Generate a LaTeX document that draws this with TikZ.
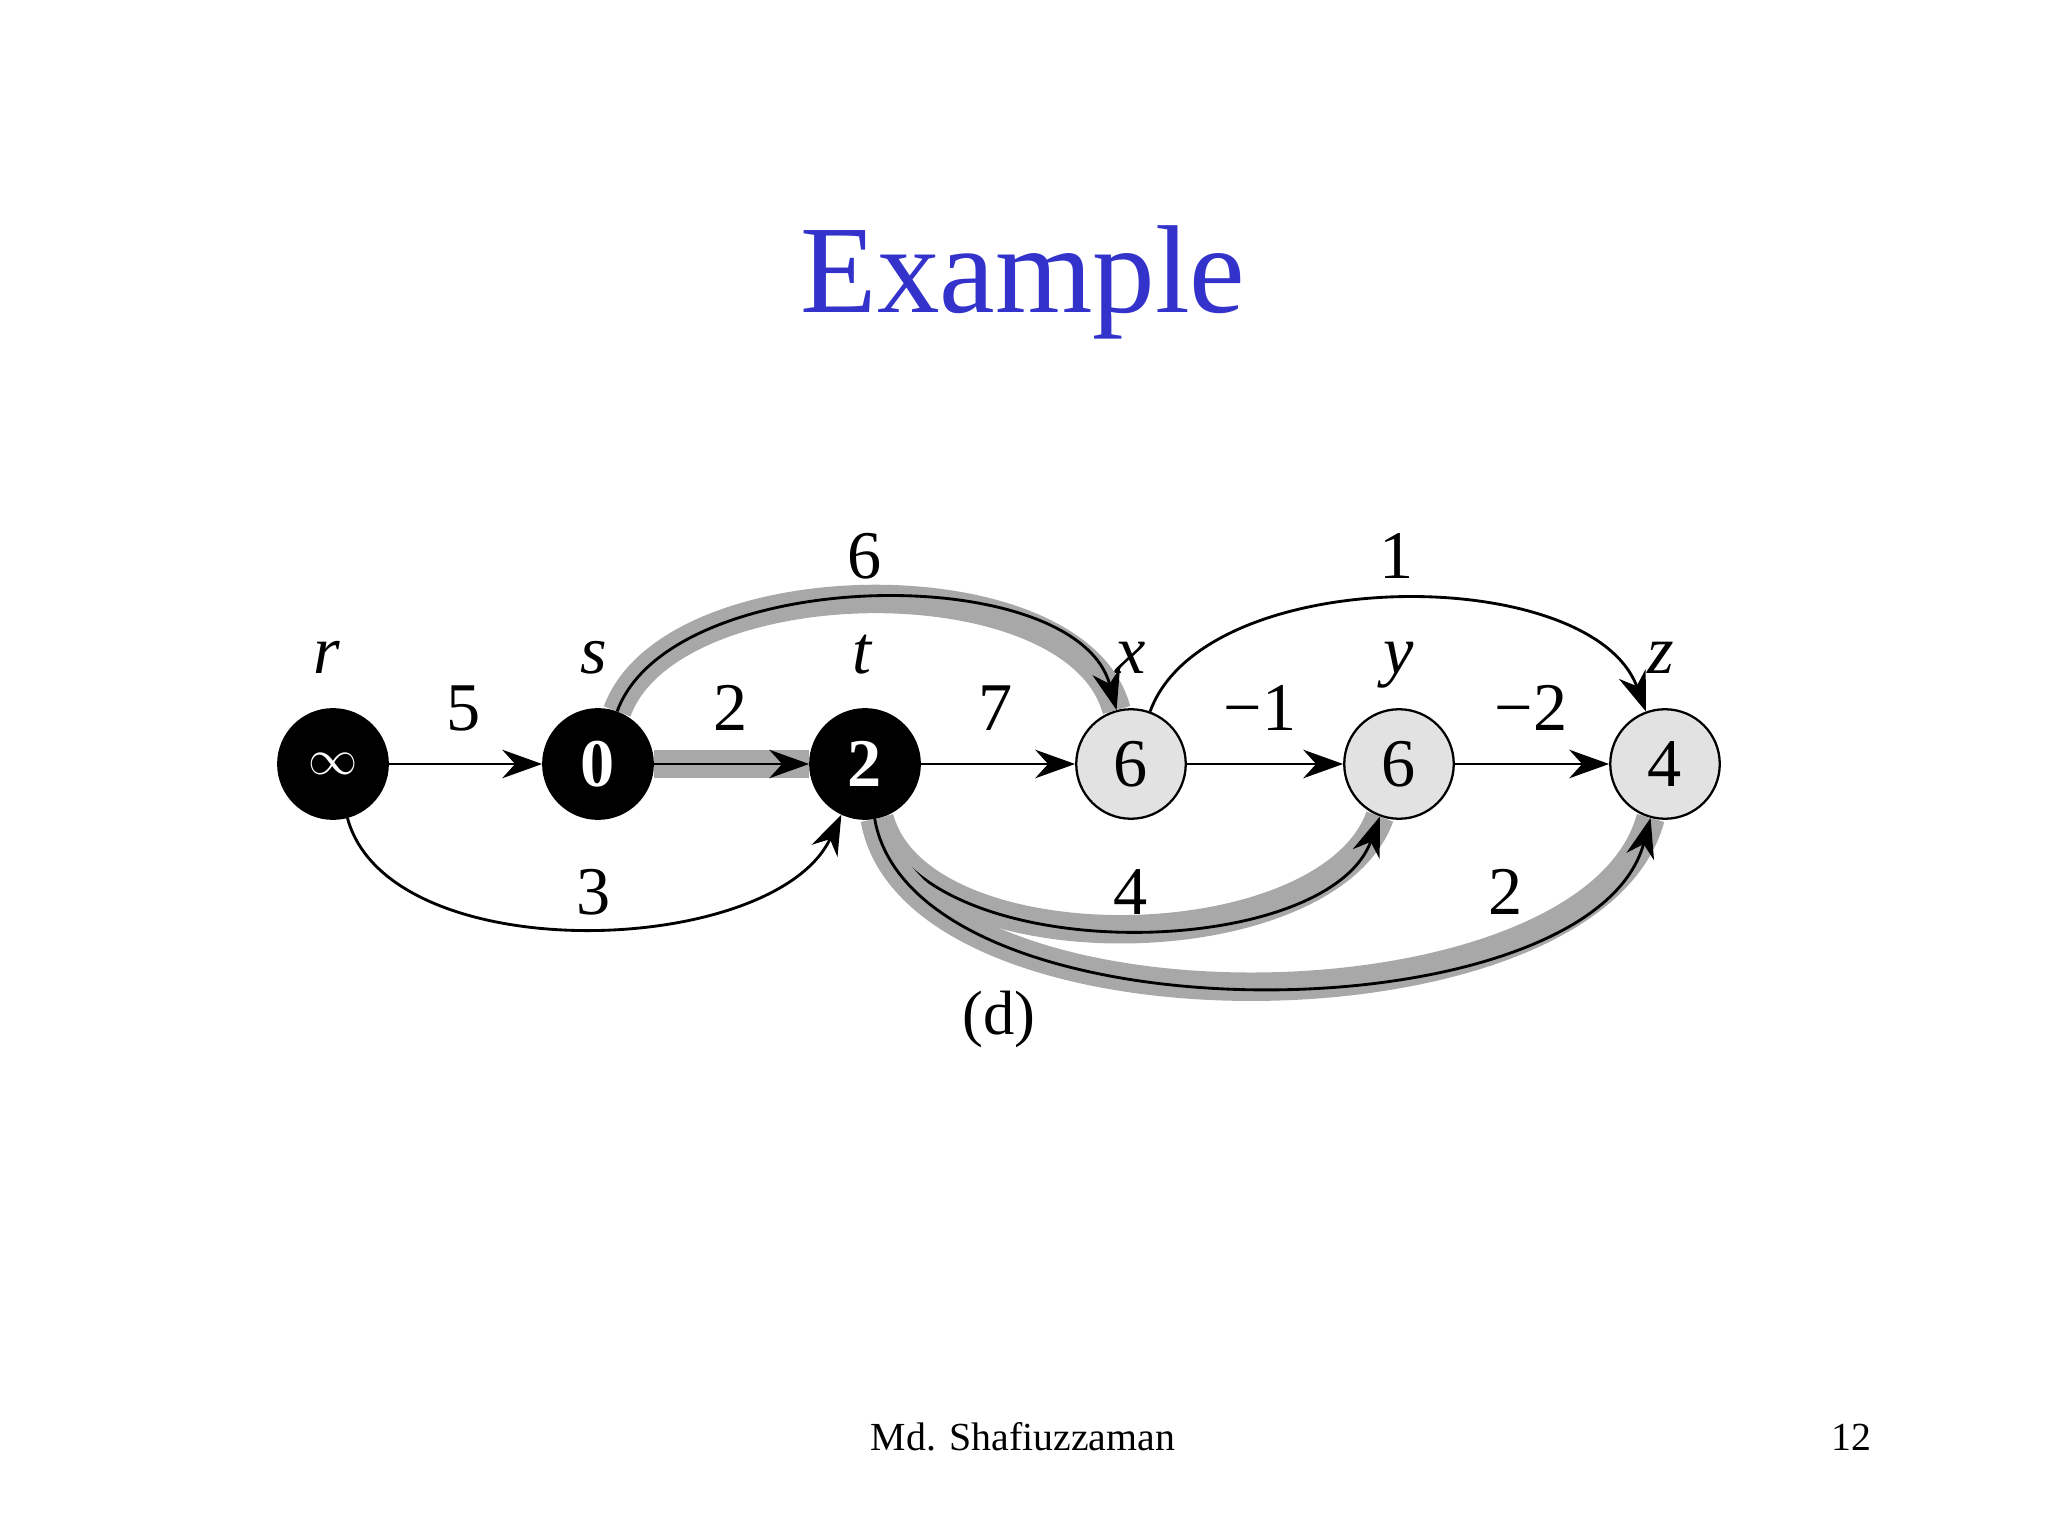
\documentclass[tikz,border=0pt]{standalone}
\usepackage{fontspec}
\setmainfont{Liberation Serif}
\usetikzlibrary{arrows.meta}
\definecolor{titleblue}{RGB}{51,51,204}
\definecolor{hlgray}{RGB}{168,168,168}
\definecolor{lightfill}{RGB}{226,226,226}
\begin{document}
\begin{tikzpicture}[x=0.3515625pt,y=-0.3515625pt,
  vtx/.style={circle, draw=black, line width=0.8pt, minimum size=38.5pt, inner sep=0pt, font=\fontsize{24}{28}\selectfont},
  blackv/.style={vtx, fill=black, text=white},
  grayv/.style={vtx, fill=lightfill},
  vname/.style={font=\fontsize{24}{28}\selectfont\itshape, anchor=base},
  wlabel/.style={font=\fontsize{24}{28}\selectfont, anchor=base},
  edge/.style={line width=1pt, -{Stealth[length=14pt,width=10pt,inset=4.5pt]}},
  hl/.style={preaction={draw=hlgray, line width=10pt, arrows=-}},
]
\useasboundingbox (0,0) rectangle (2048,1536);
\fill[white] (0,0) rectangle (2048,1536);
% title and footer
\node[font=\fontsize{44}{50}\selectfont, text=titleblue, anchor=base] (title) at (1023,313) {Example};
\node[font=\fontsize{14}{16}\selectfont, anchor=base] (author) at (1023,1450) {Md. Shafiuzzaman};
\node[font=\fontsize{14}{16}\selectfont, anchor=base east, inner sep=0pt] (page) at (1872,1450) {12};
% vertices
\node[blackv] (r) at (333,764) {\fontsize{19}{22}\selectfont$\infty$};
\node[blackv] (s) at (598,764) {\bfseries 0};
\node[blackv] (t) at (865,764) {\bfseries 2};
\node[grayv] (x) at (1131,764) {6};
\node[grayv] (y) at (1399,764) {6};
\node[grayv] (z) at (1665,764) {4};
% vertex names
\node[vname] (rn) at (327,673) {r};
\node[vname] (sn) at (594,673) {s};
\node[vname] (tn) at (862,673) {t};
\node[vname] (xn) at (1131,673) {x};
\node[vname] (yn) at (1399,673) {y};
\node[vname] (zn) at (1661,673) {z};
% edges
\draw[edge] (r) -- (s);
\draw[edge,hl] (s) -- (t);
\draw[edge] (t) -- (x);
\draw[edge] (x) -- (y);
\draw[edge] (y) -- (z);
\draw[edge] (r) to[out=-75,in=-115,looseness=0.82] (t);
\draw[edge,hl] (s) to[out=70,in=105,looseness=0.8] (x);
\draw[edge] (x) to[out=70,in=110,looseness=0.82] (z);
\draw[edge,hl] (t) to[out=-75,in=-110,looseness=0.8] (y);
\draw[edge,hl] (t) to[out=-80,in=-105,looseness=0.76] (z);
% weights
\node[wlabel] (w5) at (464,731) {5};
\node[wlabel] (w2a) at (731,731) {2};
\node[wlabel] (w7) at (996,731) {7};
\node[wlabel] (wm1) at (1260,731) {−1};
\node[wlabel] (wm2) at (1531,731) {−2};
\node[wlabel] (w3) at (594,914) {3};
\node[wlabel] (w6) at (865,579) {6};
\node[wlabel] (w1) at (1397,579) {1};
\node[wlabel] (w4) at (1131,914) {4};
\node[wlabel] (w2b) at (1506,914) {2};
\node[font=\fontsize{22}{26}\selectfont] (cap) at (999,1019) {(d)};
\end{tikzpicture}
\end{document}
